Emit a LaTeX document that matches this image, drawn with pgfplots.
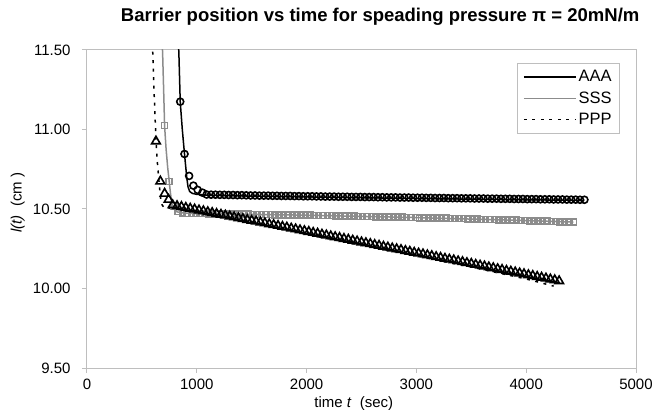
\documentclass[border=0pt]{standalone}
\usepackage{pgfplots}
\pgfplotsset{compat=1.18}
\usepackage{fontspec}
\setmainfont{Liberation Sans}
\definecolor{axgray}{RGB}{190,190,190}
\definecolor{sssgray}{RGB}{140,140,140}
\begin{document}
\begin{tikzpicture}
\begin{axis}[
  scale only axis,
  width=549bp, height=318bp,
  xmin=0, xmax=5000, ymin=9.5, ymax=11.5,
  xtick={0,1000,2000,3000,4000,5000},
  ytick={9.5,10,10.5,11,11.5},
  axis line style={axgray, line width=1bp},
  tick style={axgray, line width=1bp},
  tick align=outside, major tick length=5bp,
  xtick pos=bottom, ytick pos=left,
  /pgf/number format/assume math mode=true,
  yticklabel style={/pgf/number format/.cd, fixed, fixed zerofill, precision=2, /tikz/.cd, xshift=-8bp},
  xticklabel style={/pgf/number format/.cd, 1000 sep={}, /tikz/.cd, yshift=-3bp},
  tick label style={font=\fontsize{15bp}{18bp}\selectfont, text=black},
  label style={font=\fontsize{15bp}{18bp}\selectfont},
  xlabel={time \textit{t}\ \ (sec)},
  ylabel={\textit{l(t)}\ \ (cm\ )},
  xlabel style={at={(axis description cs:0.486,0)}, anchor=center, yshift=-36bp},
  ylabel style={at={(axis description cs:-0.126,0.52)}, anchor=center},
  title={Barrier position vs time for speading pressure π = 20mN/m},
  title style={font=\bfseries\fontsize{18.5bp}{22bp}\selectfont, at={(axis description cs:0.534,1)}, anchor=base, yshift=23bp},
  legend style={at={(axis description cs:0.971,0.959)}, anchor=north east, draw=axgray, line width=0.8bp,
    font=\fontsize{16.5bp}{20bp}\selectfont, row sep=4.5bp, inner xsep=6bp, inner ysep=5bp,
    nodes={inner sep=2bp}},
  legend cell align=left,
  legend image code/.code={\draw[#1] (0bp,0bp) -- (52bp,0bp);},
]
% model lines
\addplot[black, line width=1.5bp] coordinates {
(828,11.65) (838,11.45) (849,11.175) (868,11.0) (888,10.846) (900,10.76) (910,10.69) (920,10.64) (935,10.61) (960,10.598) (1000,10.592) (1100,10.587) (1500,10.581) (2000,10.576) (2500,10.571) (3000,10.566) (3500,10.562) (4000,10.558) (4530,10.554)
};
\addlegendentry{AAA}
\addplot[sssgray, line width=1.5bp] coordinates {
(680,11.65) (690,11.45) (698,11.25) (707,11.02) (720,10.88) (735,10.76) (749,10.672) (760,10.60) (772,10.54) (790,10.50) (820,10.482) (870,10.475) (1000,10.471) (2000,10.461) (3000,10.446) (4000,10.427) (4430,10.418)
};
\addlegendentry{SSS}
\addplot[black, line width=1.5bp, dash pattern=on 3bp off 5.5bp] coordinates {
(592,11.65) (598,11.5) (610,11.25) (620,11.08) (628,10.934) (640,10.80) (655,10.68) (668,10.58) (680,10.53) (700,10.51) (750,10.505) (800,10.50) (1500,10.42) (2000,10.34) (2500,10.273) (3000,10.205) (3500,10.135) (4000,10.06) (4250,10.015)
};
\addlegendentry{PPP}
% data markers
\addplot[forget plot, only marks, mark=o, mark size=3.5bp, black, mark options={line width=1.6bp}] coordinates {
(849,11.175) (888,10.846) (930,10.708) (969,10.647) (1008,10.62) (1051,10.603)
(1090,10.591) (1130,10.590) (1170,10.590) (1210,10.589) (1250,10.589) (1290,10.588) (1330,10.588) (1370,10.587) (1410,10.587)
(1450,10.586) (1490,10.585) (1530,10.585) (1570,10.584) (1610,10.584) (1650,10.584) (1690,10.583) (1730,10.583) (1770,10.582)
(1810,10.582) (1850,10.582) (1890,10.581) (1930,10.581) (1970,10.580) (2010,10.580) (2050,10.580) (2090,10.579) (2130,10.579)
(2170,10.578) (2210,10.578) (2250,10.578) (2290,10.577) (2330,10.577) (2370,10.577) (2410,10.576) (2450,10.576) (2490,10.576)
(2530,10.575) (2570,10.575) (2610,10.575) (2650,10.574) (2690,10.574) (2730,10.573) (2770,10.573) (2810,10.573) (2850,10.572)
(2890,10.572) (2930,10.572) (2970,10.571) (3010,10.571) (3050,10.571) (3090,10.570) (3130,10.570) (3170,10.569) (3210,10.569)
(3250,10.569) (3290,10.568) (3330,10.568) (3370,10.568) (3410,10.567) (3450,10.567) (3490,10.567) (3530,10.566) (3570,10.566)
(3610,10.566) (3650,10.565) (3690,10.565) (3730,10.565) (3770,10.564) (3810,10.564) (3850,10.564) (3890,10.563) (3930,10.563)
(3970,10.563) (4010,10.562) (4050,10.562) (4090,10.562) (4130,10.561) (4170,10.561) (4210,10.561) (4250,10.560) (4290,10.560)
(4330,10.560) (4370,10.559) (4410,10.559) (4450,10.559) (4490,10.558) (4530,10.558)
};
\addplot[forget plot, only marks, mark=square, mark size=3bp, sssgray, mark options={line width=1.6bp}] coordinates {
(707,11.024) (749,10.672) (790,10.52) (830,10.485)
(870,10.473) (910,10.472) (950,10.472) (990,10.471) (1030,10.471) (1070,10.471) (1110,10.470) (1150,10.470) (1190,10.469)
(1230,10.469) (1270,10.469) (1310,10.468) (1350,10.468) (1390,10.467) (1430,10.467) (1470,10.467) (1510,10.466) (1550,10.466)
(1590,10.465) (1630,10.465) (1670,10.465) (1710,10.464) (1750,10.464) (1790,10.463) (1830,10.463) (1870,10.463) (1910,10.462)
(1950,10.462) (1990,10.461) (2030,10.461) (2070,10.460) (2110,10.459) (2150,10.459) (2190,10.458) (2230,10.458) (2270,10.457)
(2310,10.456) (2350,10.456) (2390,10.455) (2430,10.455) (2470,10.454) (2510,10.453) (2550,10.453) (2590,10.452) (2630,10.451)
(2670,10.451) (2710,10.450) (2750,10.450) (2790,10.449) (2830,10.448) (2870,10.448) (2910,10.447) (2950,10.446) (2990,10.446)
(3030,10.445) (3070,10.445) (3110,10.444) (3150,10.443) (3190,10.443) (3230,10.442) (3270,10.442) (3310,10.441) (3350,10.440)
(3390,10.440) (3430,10.439) (3470,10.438) (3510,10.437) (3550,10.436) (3590,10.435) (3630,10.435) (3670,10.434) (3710,10.433)
(3750,10.432) (3790,10.431) (3830,10.430) (3870,10.430) (3910,10.429) (3950,10.428) (3990,10.427) (4030,10.426) (4070,10.425)
(4110,10.425) (4150,10.424) (4190,10.423) (4230,10.422) (4270,10.421) (4310,10.420) (4350,10.420) (4390,10.419) (4430,10.418)
};
\addplot[forget plot, only marks, mark=triangle, mark size=5bp, black, mark options={line width=1.6bp}] coordinates {
(628,10.926) (668,10.674) (707,10.597) (743,10.559)
(780,10.525) (820,10.519) (860,10.514) (900,10.508) (940,10.503) (980,10.498) (1020,10.492) (1060,10.487) (1100,10.481)
(1140,10.476) (1180,10.470) (1220,10.465) (1260,10.460) (1300,10.454) (1340,10.449) (1380,10.443) (1420,10.438) (1460,10.432)
(1500,10.427) (1540,10.422) (1580,10.416) (1620,10.411) (1660,10.405) (1700,10.400) (1740,10.395) (1780,10.389) (1820,10.384)
(1860,10.378) (1900,10.373) (1940,10.367) (1980,10.362) (2020,10.357) (2060,10.351) (2100,10.346) (2140,10.340) (2180,10.335)
(2220,10.329) (2260,10.324) (2300,10.319) (2340,10.313) (2380,10.308) (2420,10.302) (2460,10.297) (2500,10.291) (2540,10.286)
(2580,10.281) (2620,10.275) (2660,10.270) (2700,10.264) (2740,10.259) (2780,10.253) (2820,10.248) (2860,10.243) (2900,10.237)
(2940,10.232) (2980,10.226) (3020,10.221) (3060,10.216) (3100,10.210) (3140,10.205) (3180,10.199) (3220,10.194) (3260,10.188)
(3300,10.183) (3340,10.178) (3380,10.172) (3420,10.167) (3460,10.161) (3500,10.156) (3540,10.150) (3580,10.145) (3620,10.140)
(3660,10.134) (3700,10.129) (3740,10.123) (3780,10.118) (3820,10.112) (3860,10.107) (3900,10.102) (3940,10.096) (3980,10.091)
(4020,10.085) (4060,10.080) (4100,10.074) (4140,10.069) (4180,10.064) (4220,10.058) (4260,10.053) (4300,10.047)
};
\end{axis}
\pgfresetboundingbox
\path ([shift={(-87bp,-42bp)}]current axis.south west) rectangle ([shift={(18bp,50bp)}]current axis.north east);
\end{tikzpicture}
\end{document}
